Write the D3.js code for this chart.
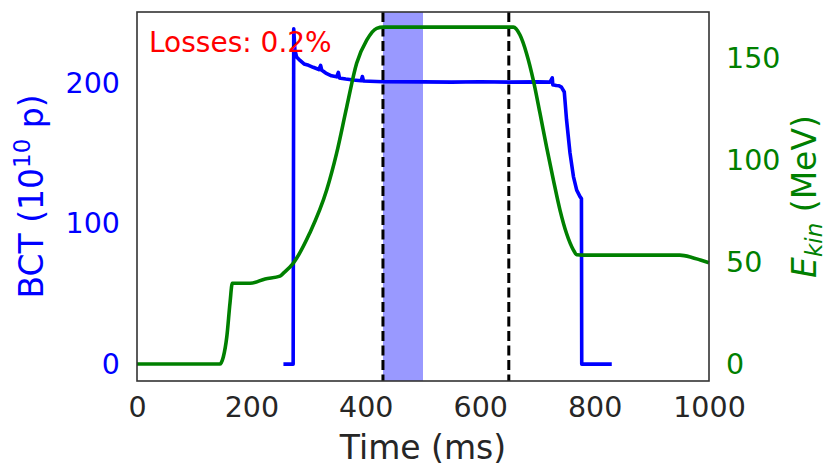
<!DOCTYPE html>
<html>
<head>
<meta charset="utf-8">
<script src="https://cdn.jsdelivr.net/npm/d3@7"></script>
<style>
  body { margin: 0; background: #fff; }
  text { font-family: "DejaVu Sans", sans-serif; }
</style>
</head>
<body>
<svg id="chart" width="825" height="469"></svg>
<script>
// beam current (BCT), 1e10 protons
var bctTime = [256, 273, 274, 276, 279, 285, 292, 300, 308, 318, 321, 323, 325, 330, 340, 349, 352, 354, 356, 365, 378, 392, 394, 396, 407, 430, 500, 550, 600, 650, 700, 722, 726, 727, 729, 733, 738, 742, 747, 751, 757, 763, 768.7, 774.5, 777, 777.5, 800, 830];
var bct     = [0,   0,   239, 224, 219, 216.5, 214, 213, 211.6, 210, 213, 209.5, 209, 207.5, 205.5, 204.8, 208, 204, 203.8, 203.2, 202.5, 202, 205, 201.8, 201.6, 201.3, 201.2, 201, 201.3, 201, 201.2, 201, 204, 199, 199, 198.6, 198.4, 197.5, 194, 174, 150.5, 133.7, 124, 119.4, 118, 0, 0, 0];

// kinetic energy, MeV
var ekinTime = [0, 145, 151, 157, 162.6, 166.6, 197.6, 224, 250, 256, 273, 302, 331.6, 349, 366.6, 384, 401.6, 419, 430.6, 658, 669.6, 681, 693, 704.5, 716, 728, 739.5, 751, 763, 768.7, 780, 949, 970, 985, 1000];
var ekin     = [0, 0,   3.6, 13.4, 30,  39.6,  39.6,  41.7, 43.1, 44.6, 49.4, 64.2, 85.3, 103.4, 126, 147.5, 158.8, 164.6, 165.2, 165.2, 161.3, 152.3, 139, 123, 106.5, 90.2, 75.5, 64, 55.9, 53.6, 53.4, 53.4, 52.3, 51, 49.7];

var markerTimes = [430, 650];
var windowSpan = [430, 500];
var xTicks = [0, 200, 400, 600, 800, 1000];
var bctTicks = [0, 100, 200];
var ekinTicks = [0, 50, 100, 150];
var lossesLabel = "Losses: 0.2%";

var pL = 137, pR = 709, pT = 12, pB = 381;

var svg = d3.select("#chart");

var x = d3.scaleLinear().domain([0, 1000]).range([pL, pR]);
var yL = d3.scaleLinear().domain([-12, 251]).range([pB, pT]);
var yR = d3.scaleLinear().domain([-8.3, 172.6]).range([pB, pT]);

// highlighted window
svg.append("rect")
    .attr("x", x(windowSpan[0]))
    .attr("y", pT)
    .attr("width", x(windowSpan[1]) - x(windowSpan[0]))
    .attr("height", pB - pT)
    .attr("fill", "#9999ff");

var bctPts = bctTime.map(function(t, i) { return [t, bct[i]]; });
var ekinPts = ekinTime.map(function(t, i) { return [t, ekin[i]]; });

svg.append("path")
    .datum(bctPts)
    .attr("fill", "none")
    .attr("stroke", "#0000ff")
    .attr("stroke-width", 3.6)
    .attr("stroke-linejoin", "round")
    .attr("d", d3.line()
        .x(function(d) { return x(d[0]); })
        .y(function(d) { return yL(d[1]); }));

svg.append("text")
    .attr("x", 149)
    .attr("y", 52)
    .attr("fill", "#ff0000")
    .attr("font-size", "28px")
    .text(lossesLabel);

// vertical markers
svg.selectAll("line.marker")
    .data(markerTimes)
    .enter().append("line")
    .attr("class", "marker")
    .attr("x1", function(d) { return x(d); })
    .attr("x2", function(d) { return x(d); })
    .attr("y1", pT)
    .attr("y2", pB)
    .attr("stroke", "#000")
    .attr("stroke-width", 3)
    .attr("stroke-dasharray", "10,4.5");

svg.append("path")
    .datum(ekinPts)
    .attr("fill", "none")
    .attr("stroke", "#008000")
    .attr("stroke-width", 3.6)
    .attr("d", d3.line()
        .curve(d3.curveMonotoneX)
        .x(function(d) { return x(d[0]); })
        .y(function(d) { return yR(d[1]); }));

// frame
svg.append("rect")
    .attr("x", pL)
    .attr("y", pT)
    .attr("width", pR - pL)
    .attr("height", pB - pT)
    .attr("fill", "none")
    .attr("stroke", "#333")
    .attr("stroke-width", 1.6);

// axes
var gx = svg.append("g")
    .attr("transform", "translate(0," + pB + ")")
    .call(d3.axisBottom(x).tickValues(xTicks).tickFormat(d3.format("d")).tickSize(0).tickPadding(16));
gx.select(".domain").remove();
gx.selectAll("text").attr("font-size", "28.5px").attr("fill", "#262626")
    .attr("font-family", "DejaVu Sans");

var gl = svg.append("g")
    .attr("transform", "translate(" + pL + ",0)")
    .call(d3.axisLeft(yL).tickValues(bctTicks).tickFormat(d3.format("d")).tickSize(0).tickPadding(17));
gl.select(".domain").remove();
gl.selectAll("text").attr("font-size", "28.5px").attr("fill", "#0000ff")
    .attr("font-family", "DejaVu Sans");

var gr = svg.append("g")
    .attr("transform", "translate(" + pR + ",0)")
    .call(d3.axisRight(yR).tickValues(ekinTicks).tickFormat(d3.format("d")).tickSize(0).tickPadding(17));
gr.select(".domain").remove();
gr.selectAll("text").attr("font-size", "28.5px").attr("fill", "#008000")
    .attr("font-family", "DejaVu Sans");

// axis titles
svg.append("text")
    .attr("x", (pL + pR) / 2)
    .attr("y", 459)
    .attr("text-anchor", "middle")
    .attr("font-size", "33px")
    .attr("fill", "#262626")
    .text("Time (ms)");

var lt = svg.append("text")
    .attr("transform", "translate(43," + (pT + pB) / 2 + ") rotate(-90)")
    .attr("text-anchor", "middle")
    .attr("font-size", "33px")
    .attr("fill", "#0000ff");
lt.append("tspan").text("BCT (10");
lt.append("tspan").attr("font-size", "23px").attr("dy", -13).text("10");
lt.append("tspan").attr("dy", 13).text(" p)");

var rt = svg.append("text")
    .attr("transform", "translate(816," + (pT + pB) / 2 + ") rotate(-90)")
    .attr("text-anchor", "middle")
    .attr("font-size", "33px")
    .attr("fill", "#008000");
rt.append("tspan").attr("font-style", "italic").text("E");
rt.append("tspan").attr("font-style", "italic").attr("font-size", "23px").attr("dy", 6).text("kin");
rt.append("tspan").attr("dy", -6).text(" (MeV)");
</script>
</body>
</html>
